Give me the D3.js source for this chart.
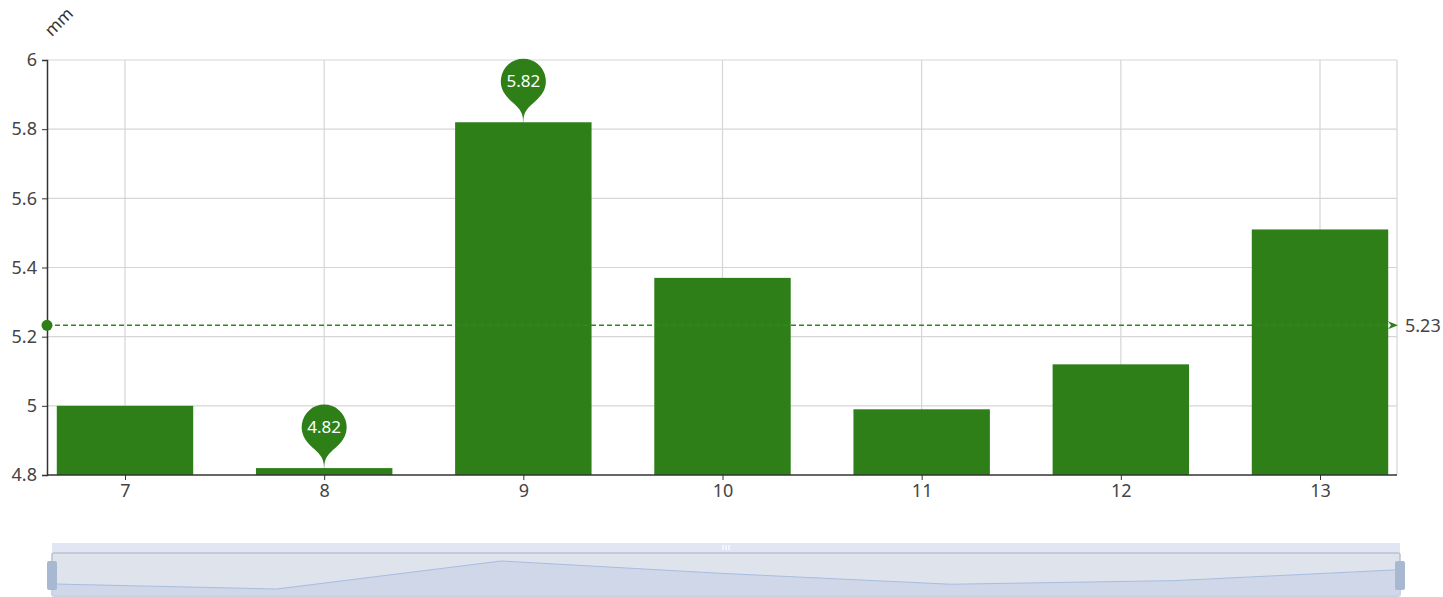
<!DOCTYPE html>
<html>
<head>
<meta charset="utf-8">
<script src="https://cdn.jsdelivr.net/npm/d3@7/dist/d3.min.js"></script>
<style>
  body { margin: 0; background: #fff; }
  svg text { font-family: "Noto Sans", "Open Sans", sans-serif; }
</style>
</head>
<body>
<div id="chart"></div>
<script>
// Chart data
var categories = ["7", "8", "9", "10", "11", "12", "13"];
var values = [5.00, 4.82, 5.82, 5.37, 4.99, 5.12, 5.51];
var yTicks = [4.8, 5, 5.2, 5.4, 5.6, 5.8, 6];
var unitLabel = "mm";

var w = 1443, h = 597;
var margin = {left: 47, right: 46, top: 60, bottom: 122};
var green = "#2e7f18";
var fs = "18px";

var svg = d3.select("#chart").append("svg")
  .attr("width", w).attr("height", h);

// category centres (axis is slightly zoomed, so the outer bands are clipped)
var xc = d3.scalePoint()
  .domain(categories)
  .range([125, 1320]);
var barW = xc.step() * 0.685;

var y = d3.scaleLinear()
  .domain([4.8, 6])
  .range([h - margin.bottom, margin.top]);

// grid
var grid = svg.append("g");
grid.selectAll(".hg").data(yTicks.slice(1)).enter().append("line")
  .attr("x1", margin.left).attr("x2", w - margin.right)
  .attr("y1", function(d) { return y(d); }).attr("y2", function(d) { return y(d); })
  .attr("stroke", "#d6d6d6").attr("stroke-width", 1.2);
grid.selectAll(".vg").data(categories).enter().append("line")
  .attr("x1", function(d) { return xc(d); }).attr("x2", function(d) { return xc(d); })
  .attr("y1", margin.top).attr("y2", h - margin.bottom)
  .attr("stroke", "#d6d6d6").attr("stroke-width", 1.2);
grid.append("line")
  .attr("x1", w - margin.right).attr("x2", w - margin.right)
  .attr("y1", margin.top).attr("y2", h - margin.bottom)
  .attr("stroke", "#d6d6d6").attr("stroke-width", 1.2);

// bars
svg.append("g").selectAll("rect").data(values).enter().append("rect")
  .attr("x", function(d, i) { return xc(categories[i]) - barW / 2; })
  .attr("width", barW)
  .attr("y", function(d) { return y(d); })
  .attr("height", function(d) { return y(4.8) - y(d); })
  .attr("fill", green);

// axes
var yAxis = d3.axisLeft(y).tickValues(yTicks).tickSize(5).tickPadding(5)
  .tickFormat(function(d) { return d3.format("")(+d.toFixed(1)); });
var gy = svg.append("g").attr("transform", "translate(" + margin.left + ",0)").call(yAxis)
  .attr("font-size", fs).attr("font-family", null);
gy.select(".domain").attr("stroke", "#333").attr("stroke-width", 1.5);
gy.selectAll(".tick line").attr("stroke", "#333");
gy.selectAll(".tick text").attr("fill", "#444");

var xAxis = d3.axisBottom(xc).tickSize(5).tickPadding(4);
var gx = svg.append("g").attr("transform", "translate(0," + (h - margin.bottom) + ")").call(xAxis)
  .attr("font-size", fs).attr("font-family", null);
gx.select(".domain").attr("stroke", "#333").attr("stroke-width", 1.5).attr("d", "M" + margin.left + ",0H" + (w - margin.right));
gx.selectAll(".tick line").attr("stroke", "#333");
gx.selectAll(".tick text").attr("fill", "#444");

svg.append("text").text(unitLabel)
  .attr("transform", "translate(63,26) rotate(-45)")
  .attr("text-anchor", "middle").attr("fill", "#333").attr("font-size", "17px");

// mean mark line
var mean = d3.mean(values);
var my = y(mean);
svg.append("line")
  .attr("x1", margin.left).attr("x2", w - margin.right - 6)
  .attr("y1", my).attr("y2", my)
  .attr("stroke", "#2f8a1c").attr("stroke-width", 1.4).attr("stroke-dasharray", "5,3");
svg.append("circle").attr("cx", margin.left).attr("cy", my).attr("r", 5.5).attr("fill", green);
var ax = w - margin.right;
svg.append("path")
  .attr("d", "M" + (ax + 1) + "," + my + "L" + (ax - 9) + "," + (my - 4) + "L" + (ax - 6) + "," + my + "L" + (ax - 9) + "," + (my + 4) + "Z")
  .attr("fill", green);
svg.append("text").text(mean.toFixed(2))
  .attr("x", ax + 8).attr("y", my).attr("dy", "0.35em")
  .attr("fill", "#444").attr("font-size", fs);

// max / min pins
function pinPath(px, py, r, d) {
  var cy = py - d;
  var dy = r * r / d;
  var ang = Math.asin(dy / r);
  var dx = Math.cos(ang) * r;
  var tx = Math.sin(ang), ty = Math.cos(ang);
  var c1 = r * 0.6, c2 = r * 0.7;
  var p = d3.path();
  p.moveTo(px - dx, cy + dy);
  p.arc(px, cy, r, Math.PI - ang, Math.PI * 2 + ang);
  p.bezierCurveTo(px + dx - tx * c1, cy + dy + ty * c1, px, py - c2, px, py);
  p.bezierCurveTo(px, py - c2, px - dx + tx * c1, cy + dy + ty * c1, px - dx, cy + dy);
  p.closePath();
  return p.toString();
}
var maxI = d3.maxIndex(values), minI = d3.minIndex(values);
var pins = svg.append("g").selectAll("g").data([maxI, minI]).enter().append("g");
pins.append("path")
  .attr("d", function(i) { return pinPath(xc(categories[i]), y(values[i]), 22.5, 41); })
  .attr("fill", green);
pins.append("text")
  .text(function(i) { return values[i].toFixed(2); })
  .attr("x", function(i) { return xc(categories[i]); })
  .attr("y", function(i) { return y(values[i]) - 41; })
  .attr("dy", "0.36em").attr("text-anchor", "middle")
  .attr("fill", "#fff").attr("font-size", "17px");

// data zoom slider
var dz = {x0: 52, x1: 1400, top: 543, mid: 553, bottom: 596};
var zoom = svg.append("g");
zoom.append("rect").attr("x", dz.x0).attr("y", dz.top).attr("width", dz.x1 - dz.x0).attr("height", dz.mid - dz.top)
  .attr("fill", "#e0e6f3");
zoom.append("rect").attr("x", dz.x0).attr("y", dz.mid).attr("width", dz.x1 - dz.x0).attr("height", dz.bottom - dz.mid)
  .attr("fill", "#dee3ec").attr("stroke", "#b9c1d4").attr("stroke-width", 1.5).attr("rx", 2);
var sx = d3.scalePoint().domain(categories).range([dz.x0, dz.x1]);
var sy = d3.scaleLinear().domain(d3.extent(values)).range([589, 561]);
zoom.append("path")
  .attr("d", d3.area().x(function(d, i) { return sx(categories[i]); }).y0(dz.bottom).y1(function(d) { return sy(d); })(values))
  .attr("fill", "#cdd5e8").attr("opacity", 0.9);
zoom.append("path")
  .attr("d", d3.line().x(function(d, i) { return sx(categories[i]); }).y(function(d) { return sy(d); })(values))
  .attr("fill", "none").attr("stroke", "#a9bde0").attr("stroke-width", 1);
[dz.x0, dz.x1].forEach(function(hx) {
  zoom.append("rect").attr("x", hx - 5).attr("y", 561).attr("width", 10).attr("height", 29).attr("rx", 2)
    .attr("fill", "#a8b8d3");
});
[-3, 0, 3].forEach(function(o) {
  zoom.append("line").attr("x1", 726 + o).attr("x2", 726 + o).attr("y1", 545).attr("y2", 550)
    .attr("stroke", "#fff").attr("stroke-width", 1.2);
});
</script>
</body>
</html>
